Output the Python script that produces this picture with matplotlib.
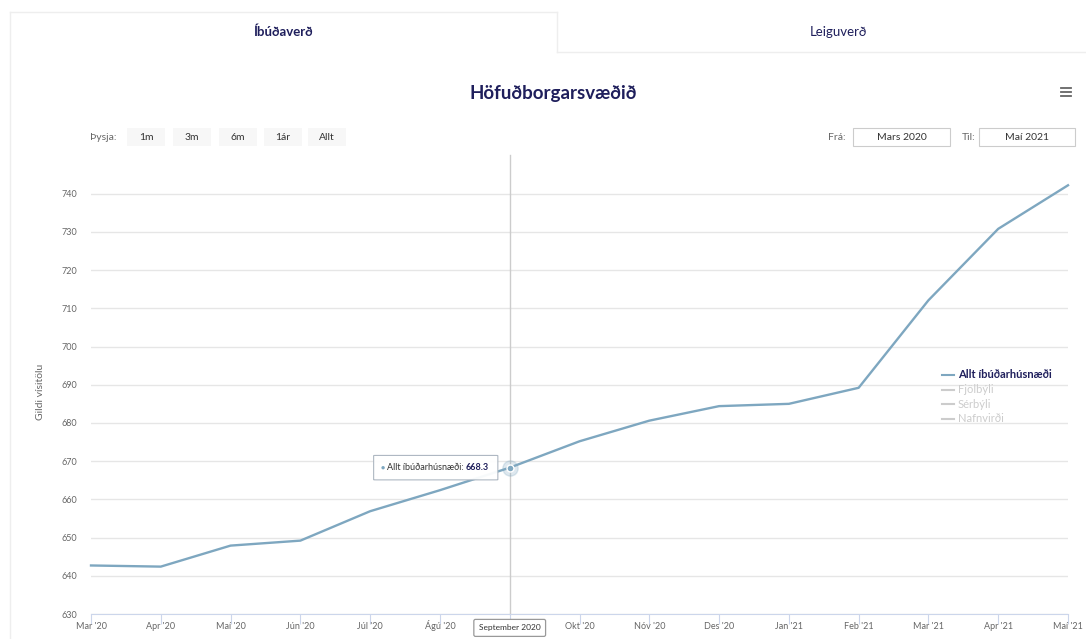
import matplotlib.pyplot as plt
from matplotlib.patches import Rectangle, FancyBboxPatch
from matplotlib.lines import Line2D

plt.rcParams['font.family'] = ['Lato', 'DejaVu Sans']

# ---- gögn ----
months = ["Mar '20", "Apr '20", "Maí '20", "Jún '20", "Júl '20", "Ágú '20", "Sep '20",
          "Okt '20", "Nóv '20", "Des '20", "Jan '21", "Feb '21", "Mar '21", "Apr '21", "Maí '21"]
allt = [642.7, 642.4, 647.9, 649.2, 656.9, 662.4, 668.3,
        675.2, 680.6, 684.4, 685.0, 689.2, 712.1, 730.8, 742.2]
series_names = ["Allt íbúðarhúsnæði", "Fjölbýli", "Sérbýli", "Nafnvirði"]
yticks = [630, 640, 650, 660, 670, 680, 690, 700, 710, 720, 730, 740]
hover_idx = 6
hover_label = "September 2020"

W, H = 1086, 639
navy = '#1f1f5c'
line_col = '#7ea7c0'
grid_col = '#e6e6e6'
axis_col = '#ccd6eb'
label_col = '#666666'

fig = plt.figure(figsize=(W / 100, H / 100), dpi=100)

def fx(px):
    return px / W

def fy(py):
    return 1 - py / H

# ---- flipar (tabs) ----
fig.add_artist(Line2D([fx(10), fx(10)], [fy(12), 0], color='#eeeeee', lw=1))
fig.add_artist(Line2D([fx(10), fx(557)], [fy(12), fy(12)], color='#eeeeee', lw=1))
fig.add_artist(Line2D([fx(557), fx(557)], [fy(12), fy(52)], color='#eeeeee', lw=1))
fig.add_artist(Line2D([fx(557), 1], [fy(52), fy(52)], color='#eeeeee', lw=1))
fig.text(fx(283), fy(32), "Íbúðaverð", ha='center', va='center', fontsize=9.5,
         fontweight='bold', color=navy)
fig.text(fx(838), fy(32), "Leiguverð", ha='center', va='center', fontsize=9.5, color=navy)

# ---- titill ----
fig.text(fx(553), fy(94), "Höfuðborgarsvæðið", ha='center', va='center', fontsize=13.5,
         fontweight='bold', color=navy)
for yy in (88, 92, 96):
    fig.add_artist(Line2D([fx(1061), fx(1071)], [fy(yy), fy(yy)], color='#666666', lw=1.3))

# ---- range selector ----
fig.text(fx(90), fy(137), "Þysja:", ha='left', va='center', fontsize=7.5, color='#666666')
for lbl, cx in zip(["1m", "3m", "6m", "1ár", "Allt"], [146, 192, 238, 283, 327]):
    fig.add_artist(Rectangle((fx(cx - 19), fy(146)), fx(38), fy(128) - fy(146),
                             facecolor='#f7f7f7', edgecolor='none'))
    fig.text(fx(cx), fy(137), lbl, ha='center', va='center', fontsize=7.5, color='#333333')
fig.text(fx(837), fy(137), "Frá:", ha='center', va='center', fontsize=7.5, color='#666666')
fig.text(fx(969), fy(137), "Til:", ha='center', va='center', fontsize=7.5, color='#666666')
for lbl, x0, x1 in [("Mars 2020", 853, 950), ("Maí 2021", 979, 1075)]:
    fig.add_artist(Rectangle((fx(x0), fy(146)), fx(x1 - x0), fy(128) - fy(146),
                             facecolor='white', edgecolor='#cccccc', lw=0.8))
    fig.text(fx((x0 + x1) / 2), fy(137), lbl, ha='center', va='center', fontsize=7.5,
             color='#333333')

# ---- graf ----
ax = fig.add_axes([fx(91), fy(614), fx(1068 - 91), fy(170) - fy(614)])
x = list(range(len(months)))
ax.plot(x, allt, color=line_col, lw=1.7, zorder=3, clip_on=False)
ax.set_xlim(0, len(months) - 1)
ax.set_ylim(630, 746.2)
ax.set_yticks(yticks)
ax.set_yticklabels([str(v) for v in yticks])
ax.set_xticks(x)
ax.set_xticklabels([m if i != hover_idx else '' for i, m in enumerate(months)])
for t in ax.get_xticklabels():
    t.set_verticalalignment('baseline')
ax.grid(axis='y', color=grid_col, lw=1)
ax.set_axisbelow(True)
for s in ['top', 'right', 'left']:
    ax.spines[s].set_visible(False)
ax.spines['bottom'].set_color(axis_col)
ax.tick_params(axis='y', length=0, labelsize=6.5, labelcolor=label_col, pad=10)
ax.tick_params(axis='x', length=7, color=axis_col, labelsize=6.5, labelcolor=label_col,
               pad=4)
ax.set_ylabel("Gildi vísitölu", fontsize=7.5, color=label_col, labelpad=12)

# crosshair + punktur
ax.axvline(hover_idx, ymin=0, ymax=1.034, color='#cccccc', lw=1, zorder=2, clip_on=False)
ax.plot([hover_idx], [allt[hover_idx]], 'o', ms=11, color=line_col, alpha=0.25, zorder=4)
ax.plot([hover_idx], [allt[hover_idx]], 'o', ms=5, color=line_col, mec='white', mew=1,
        zorder=5)

# tooltip
ax.add_patch(FancyBboxPatch((hover_idx - 1.95, allt[hover_idx] - 3.2), 1.78, 6.4,
                            boxstyle='round,pad=0,rounding_size=0.04',
                            facecolor='white', edgecolor='#aab4bf', lw=0.8, zorder=6,
                            alpha=0.95))
val = ax.annotate(f"{allt[hover_idx]:.1f}", xy=(hover_idx - 0.3, allt[hover_idx]),
                  ha='right', va='center', fontsize=6.5, fontweight='bold', color=navy,
                  zorder=7)
name = ax.annotate(f"{series_names[0]}: ", xy=(0, 0.5), xycoords=val, ha='right',
                   va='center', fontsize=6.5, color='#333333', zorder=7)
ax.annotate("● ", xy=(0, 0.5), xycoords=name, ha='right', va='center', fontsize=5,
            color=line_col, zorder=7)

# merki á x-ás
ax.annotate(hover_label, xy=(hover_idx, 630), xytext=(0, -10), textcoords='offset points',
            ha='center', va='center', fontsize=6, color='#333333',
            bbox=dict(boxstyle='round,pad=0.6,rounding_size=0.2', fc='white',
                      ec='#999999', lw=0.9), annotation_clip=False, zorder=8)

# ---- skýringar ----
leg_cols = [navy, '#cccccc', '#cccccc', '#cccccc']
leg_line = [line_col, '#cccccc', '#cccccc', '#cccccc']
for i, (nm, c, lc) in enumerate(zip(series_names, leg_cols, leg_line)):
    yy = 375 + i * 14.5
    fig.add_artist(Line2D([fx(942), fx(954)], [fy(yy), fy(yy)], color=lc, lw=1.5))
    fig.text(fx(958), fy(yy), nm, ha='left', va='center', fontsize=8, color=c,
             fontweight='bold' if i == 0 else 'normal')

plt.savefig('out.png', dpi=100)
